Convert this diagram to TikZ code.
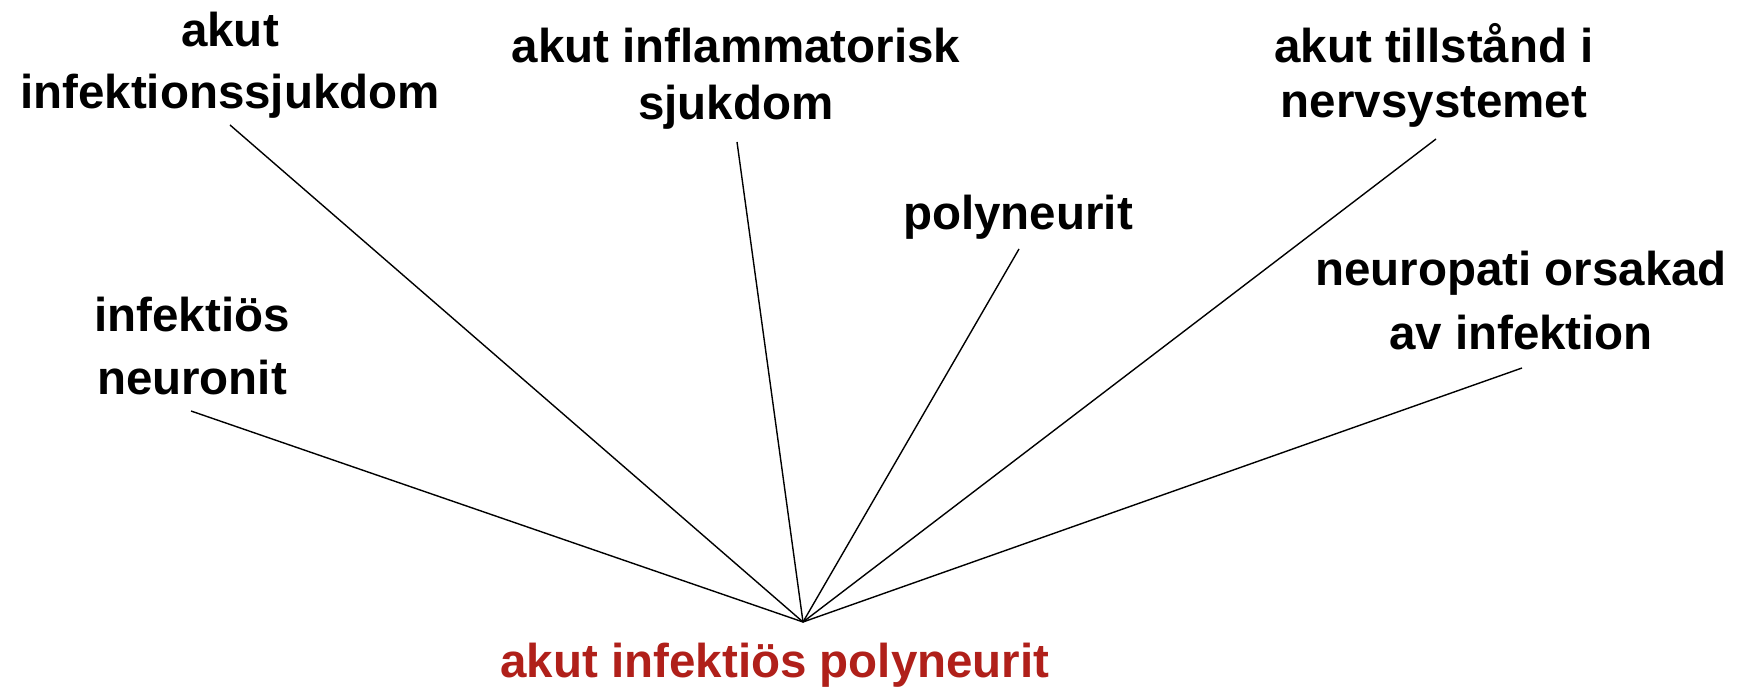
\documentclass[tikz,border=0pt]{standalone}
\usepackage{fontspec}
\setmainfont{Liberation Sans}
\definecolor{termred}{RGB}{176,32,26}
\newcommand{\lbltext}[2]{{\fontsize{23.75}{#1}\selectfont\renewcommand{\arraystretch}{1}\begin{tabular}[t]{@{}c@{}}#2\end{tabular}}}
\tikzset{
  lbl/.style={font=\bfseries, anchor=base, inner sep=0pt, outer sep=0pt},
  link/.style={line width=0.7pt, black}
}
\begin{document}
\begin{tikzpicture}[x=0.5pt,y=-0.5pt]
\path[use as bounding box, fill=white] (0,0) rectangle (1744,688);
% labels
\node[lbl] (A) at (230,47) {\lbltext{31pt}{akut\\infektionssjukdom}};
\node[lbl] (B) at (736,63) {\lbltext{28.5pt}{akut inflammatorisk\\sjukdom}};
\node[lbl] (C) at (1018,230) {\lbltext{30pt}{polyneurit}};
\node[lbl] (D) at (1434,63) {\lbltext{27.5pt}{akut tillstånd i\\nervsystemet}};
\node[lbl] (E) at (1521,286) {\lbltext{32pt}{neuropati orsakad\\av infektion}};
\node[lbl] (F) at (192,332) {\lbltext{31.5pt}{infektiös\\neuronit}};
\node[lbl, text=termred] (G) at (775,677) {\lbltext{30pt}{akut infektiös polyneurit}};
% connector ends
\coordinate (hub) at (803,622);
\coordinate (Aend) at (230,125);
\coordinate (Bend) at (737,142);
\coordinate (Cend) at (1019,249);
\coordinate (Dend) at (1436,139);
\coordinate (Eend) at (1522,368);
\coordinate (Fend) at (191,411);
\draw[link] (Aend) -- (hub);
\draw[link] (Bend) -- (hub);
\draw[link] (Cend) -- (hub);
\draw[link] (Dend) -- (hub);
\draw[link] (Eend) -- (hub);
\draw[link] (Fend) -- (hub);
\end{tikzpicture}
\end{document}
